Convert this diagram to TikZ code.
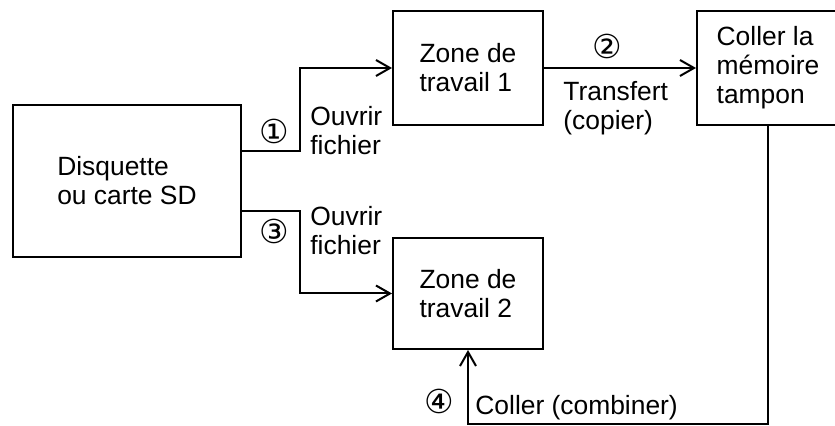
\documentclass[tikz,border=0pt]{standalone}
\usepackage{fontspec}
\setmainfont{Liberation Sans}
\newfontfamily\circfont{DejaVu Sans}
\usetikzlibrary{arrows.meta, positioning}
\tikzset{
  box/.style={rectangle, draw, line width=1pt, align=left,
    font=\fontsize{13.2}{14.5}\selectfont},
  arr/.style={-{Straight Barb[length=7pt, width=8pt]}, line width=1pt},
  link/.style={line width=1pt},
  lbl/.style={anchor=base west, align=left, inner sep=0pt,
    font=\fontsize{13.2}{14.5}\selectfont},
  num/.style={inner sep=0pt, font=\circfont\fontsize{16.5}{16.5}\selectfont}
}

\begin{document}
\begin{tikzpicture}[x=0.5pt, y=-0.5pt]
  \clip (0,0) rectangle (835,426);
  \useasboundingbox (0,0) rectangle (835,426);

  % boxes
  \node[box, minimum width=114pt, minimum height=76pt] (disk) at (127,181) {Disquette\\ou carte SD};
  \node[box, minimum width=75pt, minimum height=57pt] (zone1) at (468,68) {Zone de\\travail 1};
  \node[box, minimum width=75pt, minimum height=55.5pt] (zone2) at (468,293.5) {Zone de\\travail 2};
  \node[box, minimum width=71pt, minimum height=57pt] (buffer) at (768,68) {Coller la\\m\'emoire\\tampon};

  % helper points
  \coordinate (j1) at (300,110);
  \coordinate (j3) at (300,250);
  \coordinate (c4) at (600,424);

  % connectors
  \draw[arr] ([yshift=15pt]disk.east) -| (j1) |- (zone1.west);
  \draw[arr] ([yshift=-15pt]disk.east) -| (j3) |- (zone2.west);
  \draw[arr] (zone1.east) -- (buffer.west);
  \draw[arr] (buffer.south) |- (c4) -| (zone2.south);

  % labels
  \node[num] (n1) at (274,131) {①};
  \node[lbl] (t1) at (310,155) {Ouvrir\\fichier};
  \node[num] (n3) at (274,231) {③};
  \node[lbl] (t3) at (310,255) {Ouvrir\\fichier};
  \node[num] (n2) at (607,46) {②};
  \node[lbl] (t2) at (563,130) {Transfert\\(copier)};
  \node[num] (n4) at (439,401) {④};
  \node[lbl] (t4) at (475,415) {Coller (combiner)};
\end{tikzpicture}
\end{document}
